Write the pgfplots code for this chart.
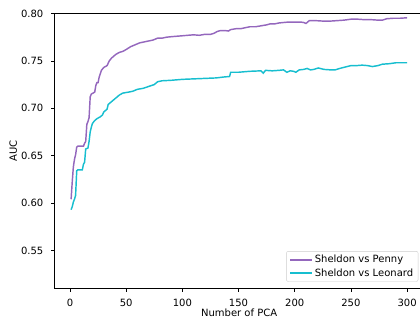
\documentclass[border=0pt]{standalone}
\usepackage{fontspec}
\setmainfont{DejaVu Sans}
\usepackage{pgfplots}
\pgfplotsset{compat=1.18}
\definecolor{mplpurple}{HTML}{9467BD}
\definecolor{mplcyan}{HTML}{17BECF}
\definecolor{legframe}{HTML}{CCCCCC}
\begin{document}
\begin{tikzpicture}
\begin{axis}[
  scale only axis,
  width=369.6pt, height=274.8pt,
  xmin=-13.95, xmax=314.95,
  ymin=0.51, ymax=0.80,
  xtick={0,50,100,150,200,250,300},
  ytick={0.55,0.60,0.65,0.70,0.75,0.80},
  /pgf/number format/assume math mode=true,
  tick align=outside,
  xtick pos=bottom, ytick pos=left,
  major tick length=3.2pt,
  every tick/.style={black, line width=0.6pt},
  axis line style={black, line width=0.6pt},
  font=\fontsize{10}{12}\selectfont,
  xticklabel style={anchor=north, inner sep=0pt, yshift=-7.0pt},
  yticklabel style={anchor=east, inner sep=0pt, xshift=-7.6pt,
    /pgf/number format/fixed, /pgf/number format/fixed zerofill, /pgf/number format/precision=2},
  xlabel={Number of PCA},
  ylabel={AUC},
  every axis x label/.style={at={(rel axis cs:0.5,0)}, anchor=center, yshift=-24.7pt},
  every axis y label/.style={at={(rel axis cs:0,0.5)}, xshift=-41.0pt, anchor=center, rotate=90},
  legend style={at={(axis description cs:0.985,0.024)}, anchor=south east,
    draw=legframe, rounded corners=2pt, fill=white,
    inner xsep=3pt, inner ysep=2pt, row sep=0pt,
    font=\fontsize{10}{12}\selectfont},
  legend cell align=left,
  legend image code/.code={\draw[#1] (0pt,0pt) -- (22pt,0pt);},
]
\addplot[draw=mplpurple, line width=1.45pt] coordinates {
(1,0.604) (2,0.622) (3,0.638) (4,0.646) (5,0.651) (6,0.659) (7,0.660) (10,0.660) (12,0.660) (13,0.663) (14,0.665) (15,0.683) (16,0.686) (17,0.690) (18,0.712) (19,0.715) (22,0.717) (23,0.724) (24,0.727) (25,0.727) (26,0.733) (28,0.740) (30,0.743) (33,0.745) (35,0.750) (37,0.753) (39,0.755) (41,0.757) (44,0.759) (47,0.760) (50,0.762) (54,0.765) (58,0.767) (62,0.769) (66,0.770) (70,0.771) (74,0.772) (78,0.774) (82,0.774) (86,0.775) (90,0.7755) (95,0.776) (100,0.7765) (105,0.777) (110,0.7775) (115,0.777) (120,0.778) (125,0.778) (128,0.779) (131,0.781) (134,0.782) (138,0.782) (141,0.7815) (143,0.783) (148,0.784) (152,0.784) (156,0.785) (160,0.786) (165,0.786) (170,0.787) (175,0.788) (178,0.789) (182,0.789) (186,0.790) (190,0.7905) (195,0.791) (200,0.791) (205,0.791) (208,0.7905) (210,0.7895) (213,0.7925) (218,0.7925) (225,0.792) (232,0.792) (238,0.7925) (244,0.793) (250,0.794) (256,0.794) (262,0.7935) (268,0.7935) (274,0.793) (278,0.793) (282,0.7945) (288,0.795) (294,0.795) (300,0.7955)
};
\addlegendentry{Sheldon vs Penny}
\addplot[draw=mplcyan, line width=1.45pt] coordinates {
(1,0.593) (2,0.596) (3,0.601) (4,0.604) (5,0.608) (6,0.634) (7,0.635) (11,0.635) (12,0.641) (13,0.643) (14,0.657) (16,0.658) (17,0.665) (18,0.675) (19,0.680) (20,0.684) (22,0.687) (24,0.689) (27,0.691) (29,0.693) (30,0.696) (33,0.699) (34,0.704) (36,0.706) (38,0.708) (40,0.710) (42,0.712) (44,0.714) (47,0.716) (52,0.717) (56,0.718) (60,0.720) (65,0.721) (70,0.723) (75,0.725) (78,0.728) (82,0.729) (90,0.7295) (100,0.7305) (110,0.731) (120,0.7315) (130,0.732) (137,0.733) (142,0.7335) (143,0.738) (150,0.738) (160,0.739) (170,0.7395) (172,0.737) (174,0.740) (180,0.7395) (186,0.740) (190,0.7405) (193,0.738) (196,0.7395) (199,0.739) (201,0.738) (204,0.7405) (208,0.741) (211,0.742) (214,0.7405) (217,0.741) (221,0.7425) (226,0.741) (232,0.7405) (236,0.7405) (240,0.742) (245,0.7435) (250,0.745) (255,0.745) (260,0.7455) (265,0.745) (269,0.744) (274,0.745) (278,0.7465) (284,0.747) (290,0.748) (296,0.748) (300,0.748)
};
\addlegendentry{Sheldon vs Leonard}
\end{axis}
\pgfresetboundingbox
\useasboundingbox (current axis.south west) ++(-54.3pt,-35.7pt) rectangle ++(420pt,324pt);
\end{tikzpicture}
\end{document}
